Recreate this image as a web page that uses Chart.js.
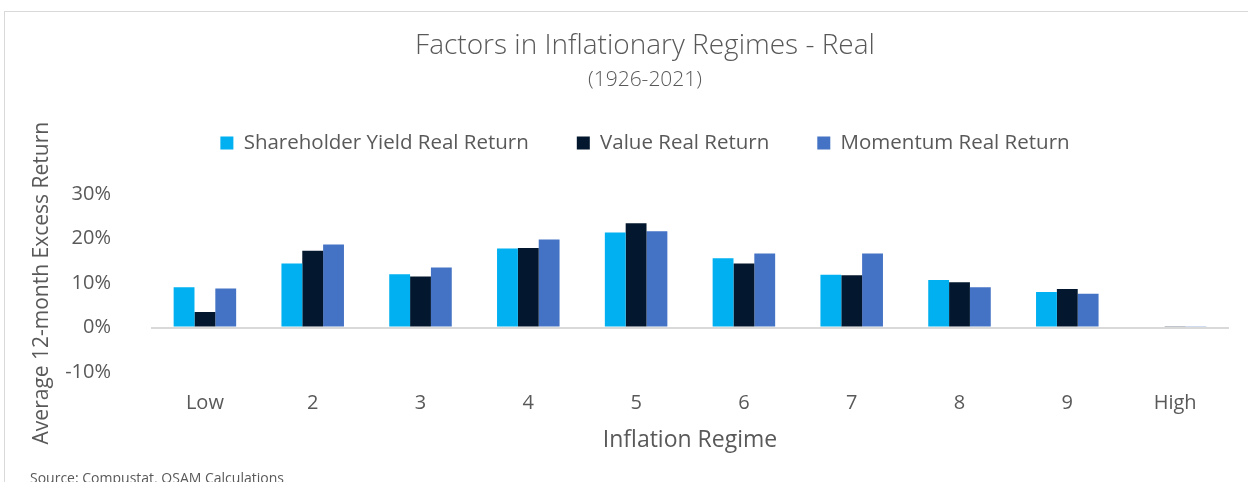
<!DOCTYPE html>
<html>
<head>
<meta charset="utf-8">
<script src="https://cdn.jsdelivr.net/npm/chart.js@4.4.1/dist/chart.umd.min.js"></script>
<style>
  html, body { margin: 0; padding: 0; width: 1248px; height: 482px; overflow: hidden; background: #fff; }
  #frame { position: absolute; left: 4px; top: 11px; width: 1300px; height: 520px; border: 1px solid #d9d9d9; box-sizing: border-box; }
  #wrap { position: absolute; left: 0; top: 0; width: 1248px; height: 482px; }
  #source { position: absolute; left: 30px; top: 468px; font: 14px "Open Sans", sans-serif; color: #595959; white-space: nowrap; }
</style>
</head>
<body>
<div id="frame"></div>
<div id="wrap"><canvas id="chart" width="1248" height="482"></canvas></div>
<div id="source">Source: Compustat, OSAM Calculations</div>
<script>
// categories and series (percent)
const regimes = ['Low', '2', '3', '4', '5', '6', '7', '8', '9', 'High'];
const shareholderYield = [9.1, 14.4, 12.0, 17.8, 21.4, 15.6, 11.9, 10.7, 8.0, -0.2];
const valueReturn = [3.5, 17.3, 11.5, 17.9, 23.5, 14.4, 11.8, 10.2, 8.7, 0.2];
const momentumReturn = [8.8, 18.7, 13.5, 19.8, 21.7, 16.7, 16.7, 9.1, 7.6, 0.2];
const yTicks = [-10, 0, 10, 20, 30];

const grey = '#595959';
const font = '"Open Sans", sans-serif';

// empty box between the legend and the plot, to leave the gap Excel has there
const legendGap = {
    id: 'legendGap',
    beforeInit(chart, args, opts) {
        Chart.layouts.addBox(chart, {
            position: 'top',
            weight: 100,
            fullSize: true,
            options: {},
            isHorizontal: () => true,
            update(maxWidth) { this.width = maxWidth; this.height = opts.height || 0; },
            getPadding: () => ({ left: 0, right: 0, top: 0, bottom: 0 }),
            draw() {}
        });
    }
};

const ctx = document.getElementById('chart').getContext('2d');
new Chart(ctx, {
    type: 'bar',
    data: {
        labels: regimes,
        datasets: [
            { label: 'Shareholder Yield Real Return', data: shareholderYield, backgroundColor: '#00B0F0' },
            { label: 'Value Real Return', data: valueReturn, backgroundColor: '#03182E' },
            { label: 'Momentum Real Return', data: momentumReturn, backgroundColor: '#4472C4' }
        ]
    },
    plugins: [legendGap],
    options: {
        responsive: false,
        animation: false,
        // left padding is wide so the title and legend centre where Excel put them
        layout: { padding: { left: 61, right: 19, top: 0, bottom: 24 } },
        datasets: { bar: { categoryPercentage: 0.58, barPercentage: 1.0 } },
        scales: {
            x: {
                grid: { display: false },
                border: { display: false },
                ticks: { color: grey, font: { family: font, size: 20 }, padding: 11 },
                title: { display: true, text: 'Inflation Regime', color: grey, font: { family: font, size: 23 }, padding: { top: 0, bottom: 4 } },
                afterFit: function(scale) { scale.height = 86; }
            },
            y: {
                min: -10,
                max: 30,
                afterBuildTicks: function(scale) { scale.ticks = yTicks.map(v => ({ value: v })); },
                grid: {
                    drawTicks: false,
                    color: c => c.tick && c.tick.value === 0 ? '#d9d9d9' : 'rgba(0,0,0,0)',
                    lineWidth: 2
                },
                border: { display: false },
                ticks: {
                    color: grey,
                    font: { family: font, size: 20 },
                    padding: 40,
                    callback: function(value) { return value + '%'; }
                },
                title: { display: true, text: 'Average 12-month Excess Return', color: grey, font: { family: font, size: 21 }, padding: { top: -32, bottom: 0 } },
                afterFit: function(scale) { scale.width = 90; }
            }
        },
        plugins: {
            title: {
                display: true,
                text: 'Factors in Inflationary Regimes - Real',
                color: grey,
                font: { family: font, size: 28, weight: '300' },
                padding: { top: 29, bottom: 0 }
            },
            subtitle: {
                display: true,
                text: '(1926-2021)',
                color: grey,
                font: { family: font, size: 21, weight: '300' },
                padding: { top: 5, bottom: -8 }
            },
            legend: {
                display: true,
                labels: {
                    color: grey,
                    font: { family: font, size: 20.5 },
                    boxWidth: 13,
                    boxHeight: 13,
                    padding: 48
                }
            },
            legendGap: { height: 31 },
            tooltip: { enabled: false }
        }
    }
});
</script>
</body>
</html>
